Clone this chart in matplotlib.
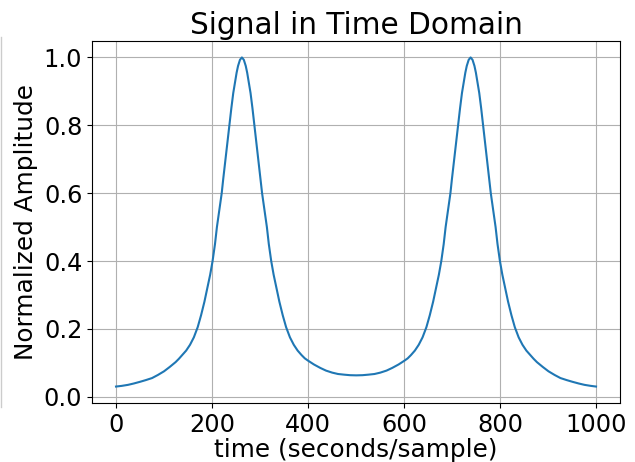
import matplotlib
matplotlib.use("Agg")
import matplotlib.pyplot as plt
from matplotlib.lines import Line2D

# sample index and normalized amplitude
t = [0, 12, 25, 37, 50, 62, 75, 87, 100, 112, 124, 131, 138, 146, 154, 162, 170, 177, 184,
     190, 196, 201, 206, 210, 215, 220, 223, 227, 232, 236, 240, 244, 248, 251, 254, 258,
     262, 266, 270, 273, 276, 280, 284, 288, 292, 297, 301, 304, 309, 314, 318, 323, 328,
     334, 340, 347, 354, 362, 370, 378, 386, 393, 400, 412, 425, 437, 450, 462, 475, 487,
     500, 513, 525, 538, 550, 563, 575, 588, 600, 607, 614, 622, 630, 638, 646, 653, 660,
     666, 672, 677, 682, 686, 691, 696, 699, 703, 708, 712, 716, 720, 724, 727, 730, 734,
     738, 742, 746, 749, 752, 756, 760, 764, 768, 773, 777, 780, 785, 790, 794, 799, 804,
     810, 816, 823, 830, 838, 846, 854, 862, 869, 876, 888, 900, 913, 925, 938, 950, 963,
     975, 988, 999]
amp = [0.030, 0.032, 0.035, 0.039, 0.044, 0.049, 0.055, 0.064, 0.075, 0.088, 0.102, 0.112,
       0.123, 0.136, 0.153, 0.175, 0.205, 0.240, 0.280, 0.320, 0.360, 0.400, 0.450, 0.500,
       0.550, 0.600, 0.640, 0.690, 0.750, 0.800, 0.850, 0.895, 0.930, 0.955, 0.975, 0.993,
       1.000, 0.993, 0.975, 0.955, 0.930, 0.895, 0.850, 0.800, 0.750, 0.690, 0.640, 0.600,
       0.550, 0.500, 0.450, 0.400, 0.360, 0.320, 0.280, 0.240, 0.205, 0.175, 0.153, 0.136,
       0.123, 0.113, 0.106, 0.095, 0.085, 0.077, 0.071, 0.067, 0.065, 0.0635,
       0.063, 0.0635, 0.065, 0.067, 0.071, 0.077, 0.085, 0.095, 0.106, 0.113, 0.123, 0.136,
       0.153, 0.175, 0.205, 0.240, 0.280, 0.320, 0.360, 0.400, 0.450, 0.500, 0.550, 0.600,
       0.640, 0.690, 0.750, 0.800, 0.850, 0.895, 0.930, 0.955, 0.975, 0.993,
       1.000, 0.993, 0.975, 0.955, 0.930, 0.895, 0.850, 0.800, 0.750, 0.690, 0.640, 0.600,
       0.550, 0.500, 0.450, 0.400, 0.360, 0.320, 0.280, 0.240, 0.205, 0.175, 0.153, 0.136,
       0.123, 0.112, 0.102, 0.088, 0.075, 0.064, 0.055, 0.049, 0.044, 0.039, 0.035, 0.032,
       0.030]

fig = plt.figure(figsize=(6.35, 4.62), dpi=100)
ax = fig.add_axes([0.1449, 0.1277, 0.8315, 0.7836])

ax.plot(t, amp, color="#1f77b4", linewidth=1.5)
ax.grid(True)
ax.set_title("Signal in Time Domain", fontsize=21.3, pad=5)
ax.set_xlabel("time (seconds/sample)", fontsize=17.8, labelpad=1)
ax.set_ylabel("Normalized Amplitude", fontsize=17.8)
ax.tick_params(labelsize=17.3)

# thin border line at the left edge of the screenshot
fig.add_artist(Line2D([0.002, 0.002], [0.12, 0.92], color="#cccccc", linewidth=1))

fig.savefig("out.png", dpi=100)
